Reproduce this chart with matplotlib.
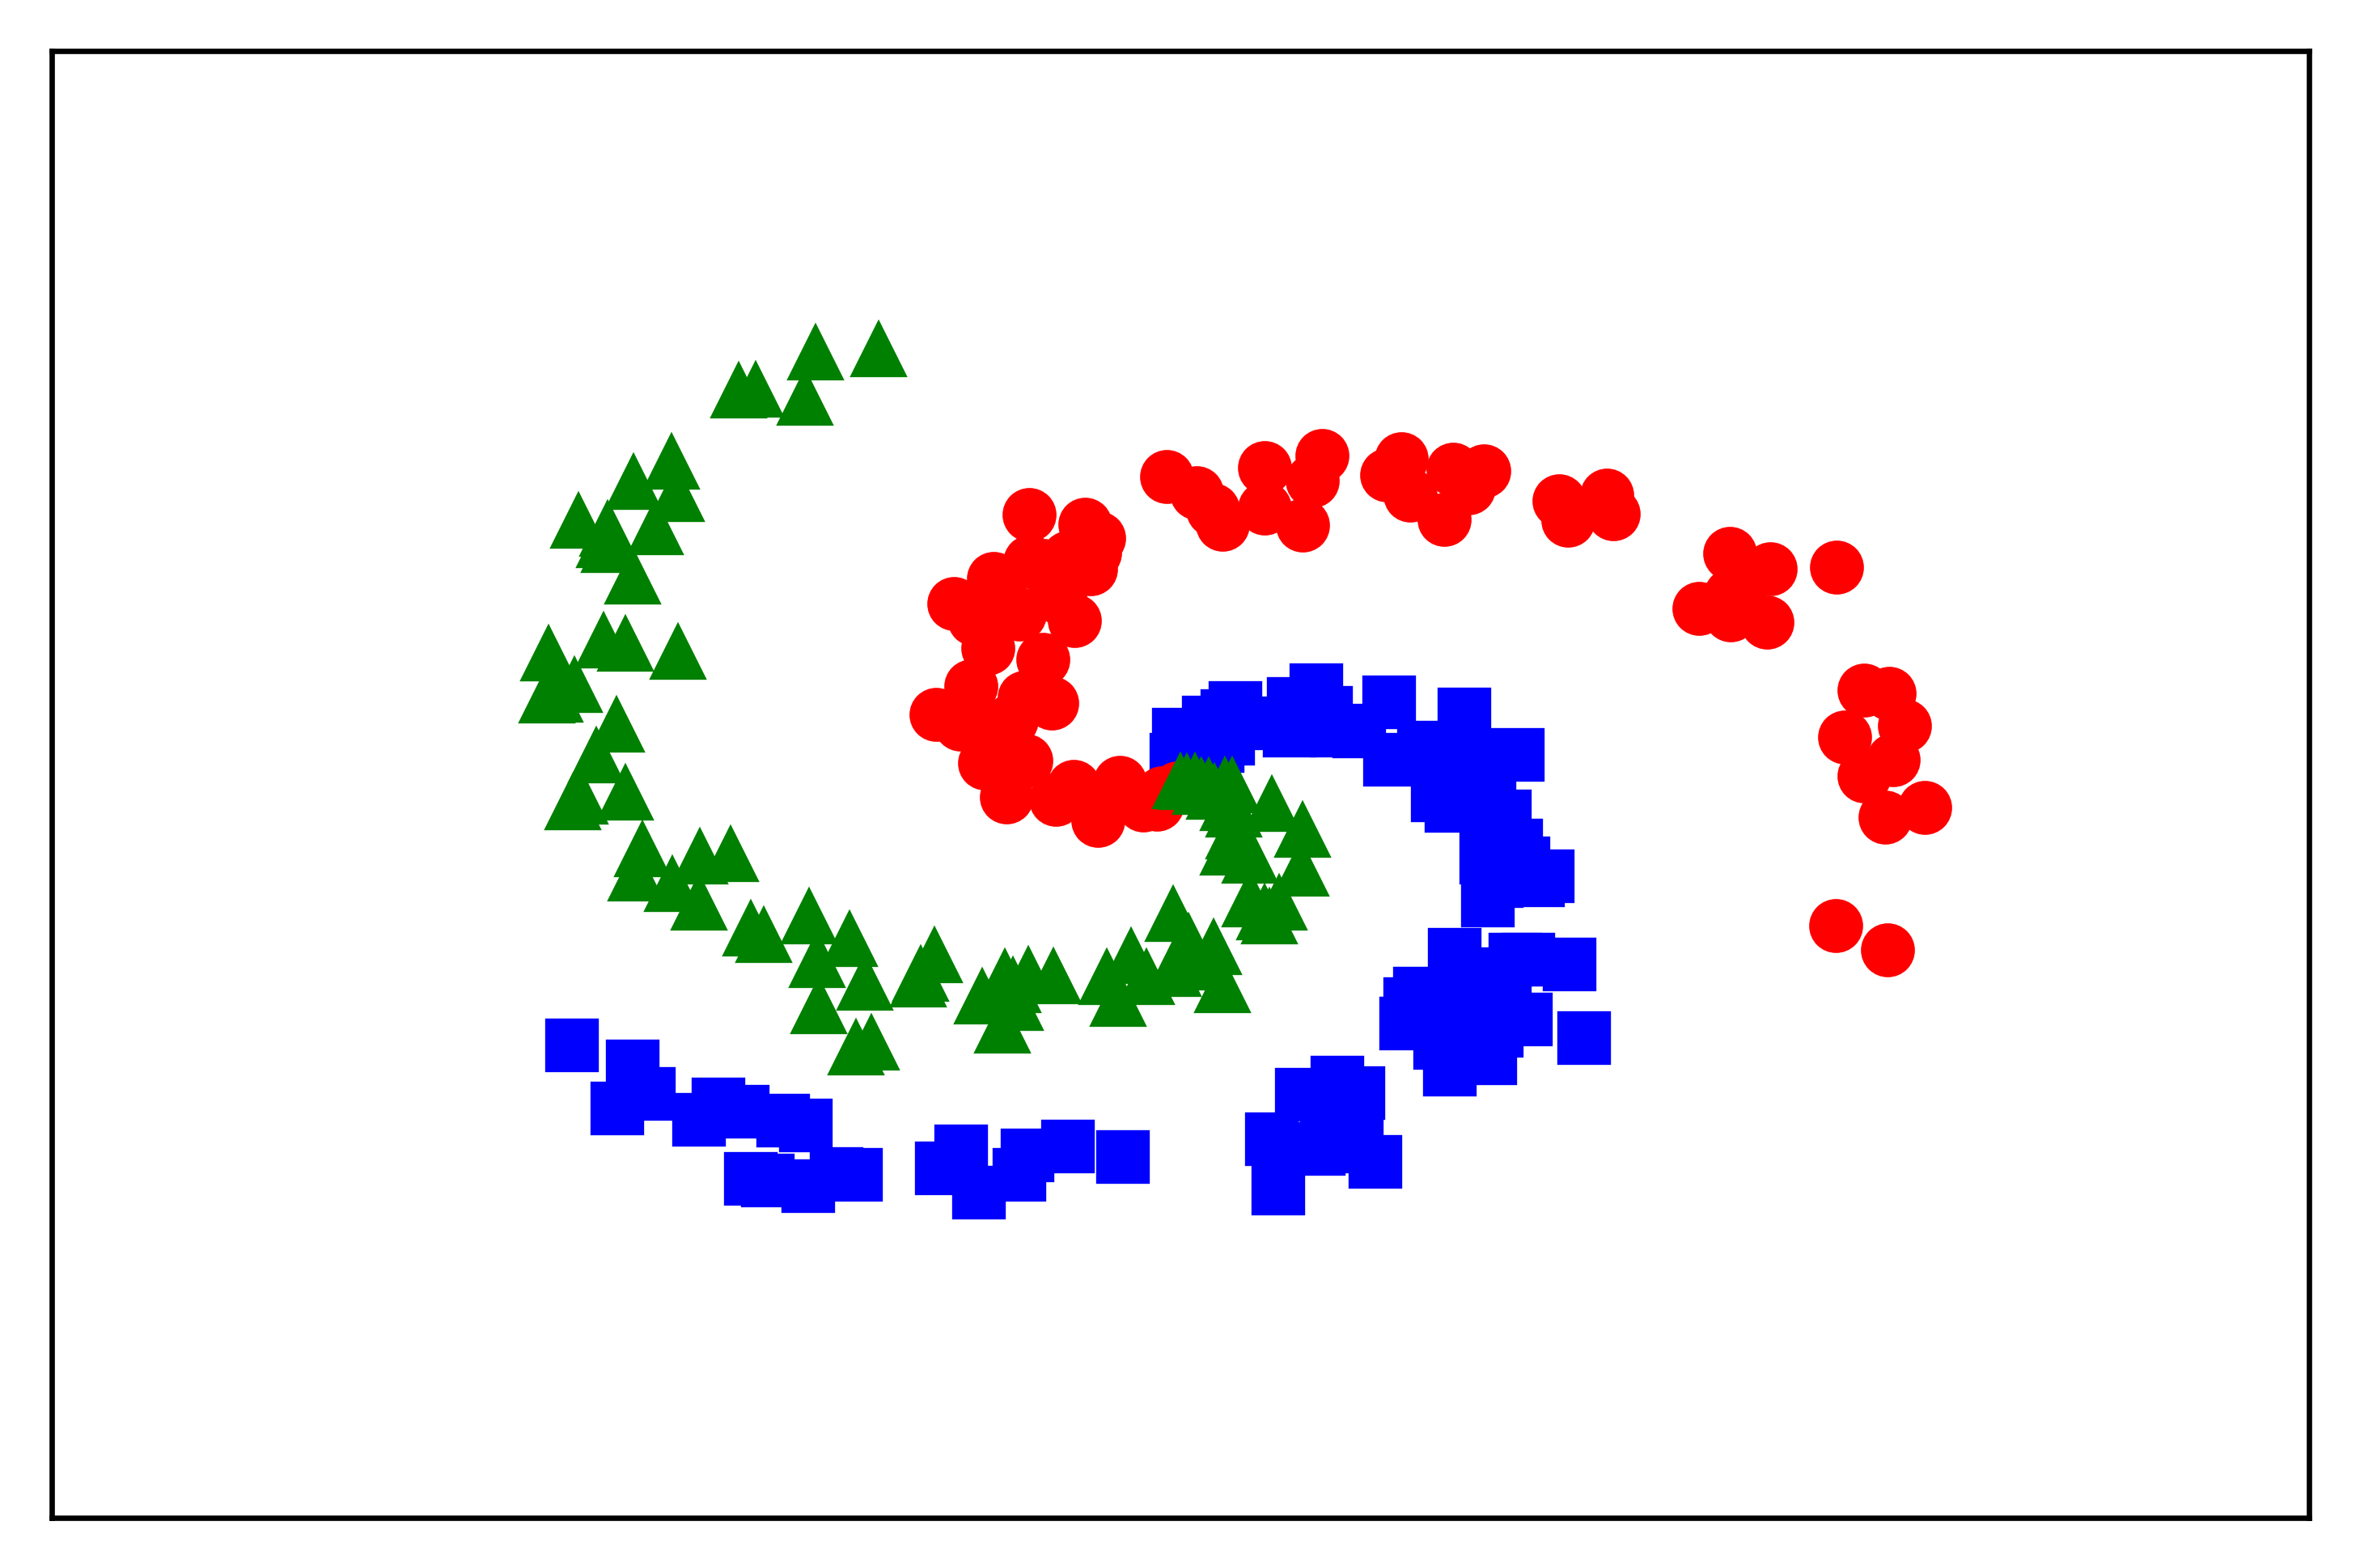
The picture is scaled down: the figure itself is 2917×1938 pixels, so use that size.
import matplotlib
matplotlib.use("Agg")
import matplotlib.pyplot as plt

# point positions (x to the right, y downwards)
red_x = [1272, 1341, 1358, 1353, 1348, 1273, 1233, 1179, 1328, 1204, 1221, 1289,
         1200, 1266, 1157, 1187, 1250, 1217, 1268, 1244, 1327, 1384, 1305, 1357,
         1413, 1436, 1455, 1430, 1290, 1260, 1300, 1230, 1302, 1228, 1310, 1320,
         1442, 1479, 1511, 1499, 1563, 1563, 1634, 1622, 1610, 1732, 1714, 1743,
         1796, 1834, 1785, 1815, 1927, 1938, 1986, 1994,
         2138, 2188, 2100, 2139, 2184, 2139, 2150, 2270, 2304, 2335, 2354, 2280,
         2340, 2304, 2330, 2379, 2269, 2333]
red_y = [637, 649, 666, 684, 704, 695, 730, 747, 768, 766, 802, 816,
         849, 863, 884, 896, 891, 944, 941, 986, 973, 968, 989, 1015,
         996, 981, 975, 995, 700, 760, 870, 900, 716, 716, 740, 690,
         590, 610, 649, 631, 579, 629, 564, 595, 650, 568, 588, 613,
         581, 583, 643, 604, 620, 644, 613, 636,
         685, 704, 753, 761, 770, 736, 740, 702, 854, 858, 898, 912,
         940, 960, 1011, 999, 1145, 1175]

blue_x = [707, 782, 763, 802, 888, 864, 918, 968, 996, 928, 949, 999, 1034, 1058,
          1164, 1188, 1210, 1260, 1270, 1320, 1388,
          1572, 1609, 1653, 1580, 1700, 1630, 1640, 1679, 1677,
          1798, 1873, 1889, 1940, 1755, 1743, 1738, 1886, 1792, 1842, 1958,
          1830, 1800, 1860, 1820, 1850, 1780,
          1627, 1717, 1810, 1527, 1599, 1639, 1517, 1494, 1457, 1505, 1454, 1594,
          1652, 1518, 1560, 1680, 1760,
          1876, 1718, 1777, 1794, 1825, 1838, 1841, 1874, 1883, 1913, 1901, 1837,
          1839, 1860, 1850]
blue_y = [1293, 1319, 1371, 1353, 1366, 1385, 1375, 1386, 1392, 1458, 1460, 1467, 1452, 1453,
          1445, 1424, 1475, 1453, 1429, 1418, 1431,
          1409, 1354, 1339, 1470, 1437, 1421, 1380, 1352, 1418,
          1181, 1187, 1187, 1193, 1229, 1242, 1266, 1261, 1323, 1309, 1284,
          1230, 1260, 1240, 1205, 1275, 1290,
          854, 869, 884, 876, 871, 882, 886, 894, 909, 923, 940, 904,
          904, 914, 895, 905, 925,
          934, 940, 984, 997, 945, 966, 980, 1046, 1068, 1084, 1089, 1061,
          1114, 1010, 1090]

green_x = [1086, 1008, 913, 934, 995,
           830, 783, 836, 715, 751, 747, 753, 810, 782,
           678, 746, 773, 838, 710, 676, 686, 762, 737, 773, 708, 717,
           794, 786, 831, 865, 903, 864, 928, 944, 1000, 1050, 1010, 1069, 1012,
           1058, 1077, 1155, 1135, 1138, 1214,
           1242, 1252, 1271, 1302, 1255, 1239, 1368, 1398, 1417, 1382,
           1450, 1469, 1500, 1450, 1480, 1511,
           1459, 1467, 1477, 1485, 1494, 1501, 1514, 1523, 1572, 1610, 1608, 1581,
           1569, 1563, 1545, 1518, 1525, 1518, 1525, 1545, 1484]
green_y = [434, 438, 485, 484, 494,
           573, 598, 613, 646, 656, 670, 676, 654, 715,
           810, 794, 798, 808, 849, 862, 861, 898, 936, 982, 994, 987,
           1052, 1082, 1095, 1061, 1058, 1118, 1150, 1158, 1135, 1163, 1189, 1217, 1246,
           1297, 1291, 1183, 1213, 1206, 1234,
           1210, 1220, 1207, 1209, 1242, 1270, 1210, 1184, 1210, 1237,
           1132, 1166, 1173, 1200, 1192, 1220,
           968, 969, 968, 974, 974, 981, 973, 973, 996, 1028, 1076, 1118,
           1135, 1130, 1114, 1050, 1003, 995, 1030, 1060, 975]

fig = plt.figure(figsize=(2917 / 600, 1939 / 600), dpi=600)
ax = fig.add_axes([0.02177, 0.03223, 0.9568, 0.93451])

ax.plot(blue_x, blue_y, "bs", markersize=7)
ax.plot(red_x, red_y, "ro", markersize=7)
ax.plot(green_x, green_y, "g^", markersize=7)

ax.set_xlim(63.5, 2854.5)
ax.set_ylim(1876.5, 64.5)
ax.set_xticks([])
ax.set_yticks([])

fig.savefig("out.png", dpi=600)
